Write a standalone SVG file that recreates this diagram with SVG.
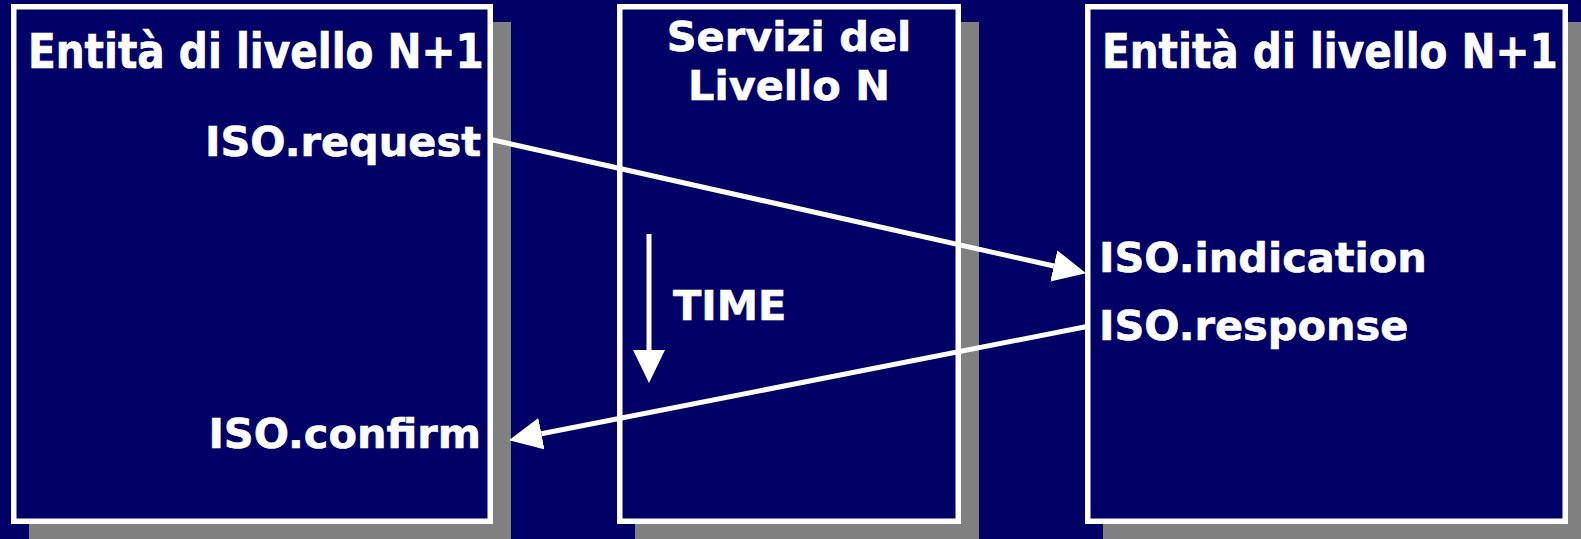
<svg xmlns="http://www.w3.org/2000/svg" width="1581" height="539" viewBox="0 0 1581 539">
<defs>
<style>
.bg{fill:#000066}
.shadow{fill:#808080}
.box{fill:#000066;stroke:#ffffff;stroke-width:5.5}
.t{font-family:"DejaVu Sans","Verdana",sans-serif;font-weight:bold;fill:#ffffff;stroke:#ffffff;stroke-width:0.6}
.title{font-size:40.6px}
.lbl{font-size:41.5px}
.conn{stroke:#ffffff;stroke-width:5;fill:none}
</style>
<marker id="ah" markerUnits="userSpaceOnUse" markerWidth="34" markerHeight="34" viewBox="0 0 34 34" refX="0" refY="16" orient="auto">
<path d="M0,0 L33,16 L0,32 Z" fill="#ffffff"/>
</marker>
</defs>
<rect class="bg" x="0" y="0" width="1581" height="539"/>
<g id="left-entity">
<rect class="shadow" x="29" y="22" width="482" height="530"/>
<rect class="box" x="13.75" y="6.75" width="476.5" height="514.5"/>
<text class="t title" transform="translate(28,68) scale(1,1.16)" x="0" y="0">Entità di livello N+1</text>
<text class="t lbl" x="481" y="156" text-anchor="end">ISO.request</text>
<text class="t lbl" x="481" y="448" text-anchor="end">ISO.confirm</text>
</g>
<g id="service-layer">
<rect class="shadow" x="635" y="22" width="344" height="530"/>
<rect class="box" x="619.75" y="6.75" width="338.5" height="514.5"/>
<text class="t lbl" x="789" y="51" text-anchor="middle">Servizi del</text>
<text class="t lbl" x="789" y="100" text-anchor="middle">Livello N</text>
<text class="t lbl" x="673" y="320">TIME</text>
</g>
<g id="right-entity">
<rect class="shadow" x="1103" y="22" width="490" height="530"/>
<rect class="box" x="1087.75" y="6.75" width="477.5" height="514.5"/>
<text class="t title" transform="translate(1102,68) scale(1,1.16)" x="0" y="0">Entità di livello N+1</text>
<text class="t lbl" x="1099" y="272">ISO.indication</text>
<text class="t lbl" x="1099" y="340">ISO.response</text>
</g>
<g id="connectors">
<line class="conn" x1="491" y1="139.5" x2="1053.8" y2="266" marker-end="url(#ah)"/>
<line class="conn" x1="1087" y1="326.5" x2="541.4" y2="433.8" marker-end="url(#ah)"/>
<line class="conn" x1="649" y1="234" x2="649" y2="350" marker-end="url(#ah)"/>
</g>
</svg>
